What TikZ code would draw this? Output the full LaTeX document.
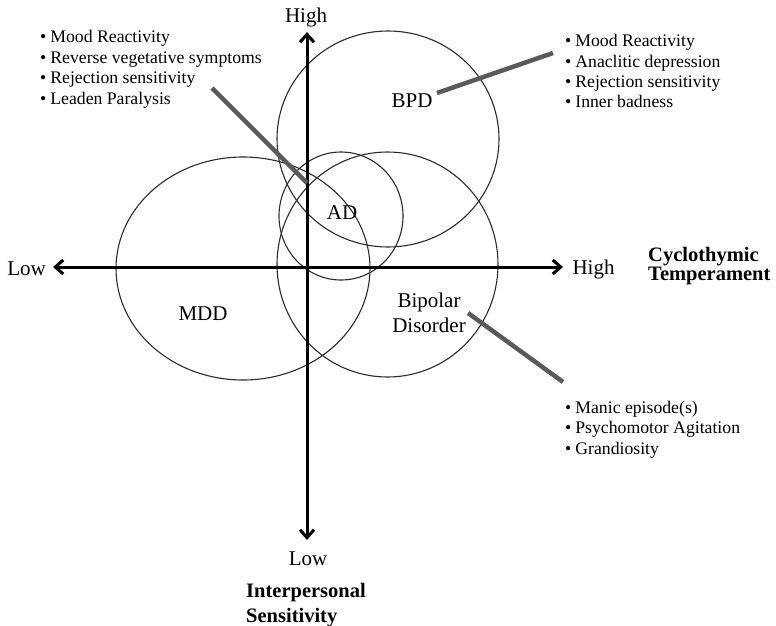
\documentclass[tikz,border=0pt]{standalone}
\usepackage{fontspec}
\setmainfont{Liberation Serif}
\usetikzlibrary{arrows.meta}
\definecolor{tinta}{HTML}{2B2B2B}
\definecolor{guia}{HTML}{5A5A5A}

\begin{document}
\begin{tikzpicture}[x=1pt,y=-1pt,line cap=round,
    eje/.style={line width=3pt,
      {Straight Barb[length=8pt,width=14pt]}-{Straight Barb[length=8pt,width=14pt]}},
    zona/.style={tinta,line width=1.1pt},
    guialine/.style={guia,line width=4.5pt,line cap=butt},
    rotulo/.style={inner sep=0pt,font=\fontsize{21}{25}\selectfont},
    item/.style={inner sep=0pt,anchor=base west,font=\fontsize{17.7}{20}\selectfont},
    titulo/.style={inner sep=0pt,align=left,anchor=north west,
      font=\fontsize{20.5}{17}\selectfont\bfseries}]
  \useasboundingbox (0,0) rectangle (776,626);
  % the four groups
  \draw[zona] (388,139) ellipse[x radius=111pt,y radius=108pt];
  \draw[zona] (387.5,264.5) ellipse[x radius=110.5pt,y radius=112.5pt];
  \draw[zona] (243,268.5) ellipse[x radius=127pt,y radius=111.5pt];
  \draw[zona] (341,216) ellipse[x radius=62pt,y radius=64pt];
  % axes
  \coordinate (xlo) at (53,267);
  \coordinate (xhi) at (563,267);
  \coordinate (ylo) at (307,540);
  \coordinate (yhi) at (307,32);
  \draw[eje] (xlo) -- (xhi);
  \draw[eje] (ylo) -- (yhi);
  \node[rotulo,anchor=base] (ytop) at (306,23) {High};
  \node[rotulo,anchor=base] (ybot) at (308,565) {Low};
  \node[rotulo,anchor=base] (xleft) at (26.5,275) {Low};
  \node[rotulo,anchor=base] (xright) at (593.5,274) {High};
  \node[titulo] (cyclo) at (648,247.5) {Cyclothymic\\Temperament};
  \node[titulo,font=\fontsize{20.5}{25}\selectfont\bfseries] (inter)
        at (246,583.5) {Interpersonal\\Sensitivity};
  % group labels
  \node[rotulo,anchor=base] (bpd) at (412,107) {BPD};
  \node[rotulo,anchor=base] (ad) at (342,219) {AD};
  \node[rotulo,anchor=base] (mdd) at (203,320.5) {MDD};
  \node[rotulo,anchor=north,align=center] (bip) at (429,292.5) {Bipolar\\Disorder};
  % symptom lists
  \foreach \t [count=\i] in {Mood Reactivity,Reverse vegetative symptoms,
      Rejection sensitivity,Leaden Paralysis}
    \node[item] (ad\i) at (40,{43+20.5*(\i-1)}) {\textbullet\hspace{4pt}\t};
  \foreach \t [count=\i] in {Mood Reactivity,Anaclitic depression,
      Rejection sensitivity,Inner badness}
    \node[item] (bpd\i) at (565,{47+20.3*(\i-1)}) {\textbullet\hspace{4pt}\t};
  \foreach \t [count=\i] in {{Manic episode(s)},Psychomotor Agitation,Grandiosity}
    \node[item] (bip\i) at (565,{413+20.5*(\i-1)}) {\textbullet\hspace{4pt}\t};
  % leader lines
  \coordinate (adA) at (212,88);
  \coordinate (adB) at (307,183);
  \coordinate (bpdA) at (437,93);
  \coordinate (bpdB) at (553,53);
  \coordinate (bipA) at (468,313);
  \coordinate (bipB) at (563,382);
  \draw[guialine] (adA) -- (adB);
  \draw[guialine] (bpdA) -- (bpdB);
  \draw[guialine] (bipA) -- (bipB);
\end{tikzpicture}
\end{document}
